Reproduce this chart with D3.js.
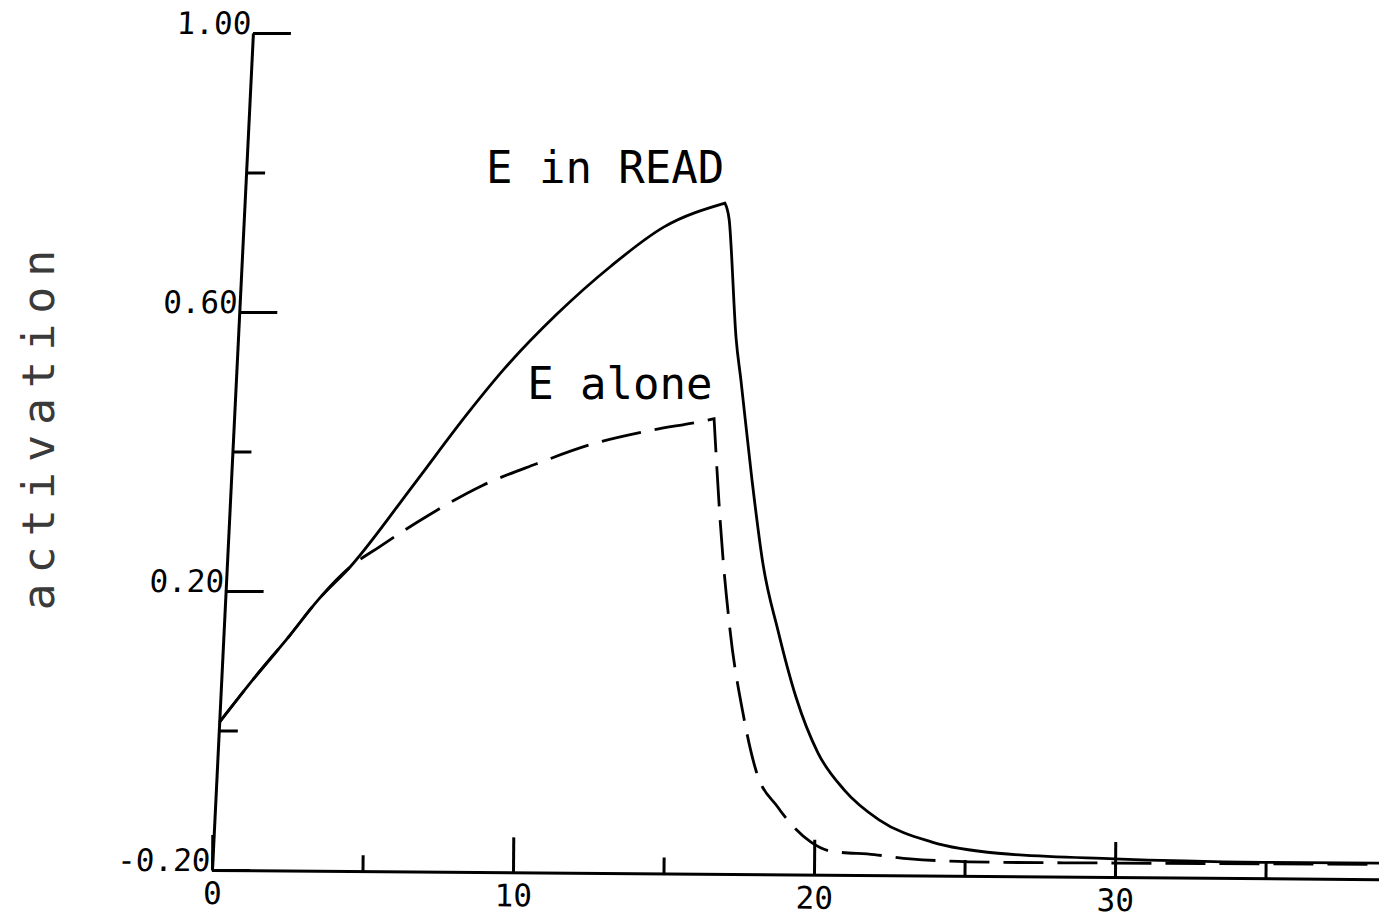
<!DOCTYPE html>
<html>
<head>
<meta charset="utf-8">
<script src="https://cdn.jsdelivr.net/npm/d3@7"></script>
<style>
  body { margin: 0; background: #fff; }
  svg { display: block; }
  text { font-family: "DejaVu Sans Mono", "Liberation Mono", monospace; fill: #000; }
</style>
</head>
<body>
<div id="chart"></div>
<script>
// values
const readTime  = [0.25, 1.4, 2.56, 3.52, 4.58, 6.71, 8.5, 9.7, 11.46, 13.26, 15.02, 17.04, 17.18, 17.41, 17.57, 17.94, 18.3, 18.8, 19.4, 20.13, 21.0, 22.16, 23.92, 26.11, 29.97, 34.92, 38.77];
const readAct   = [0.012, 0.075, 0.135, 0.187, 0.234, 0.353, 0.455, 0.518, 0.597, 0.666, 0.722, 0.756, 0.733, 0.563, 0.503, 0.359, 0.24, 0.144, 0.048, -0.032, -0.085, -0.128, -0.16, -0.176, -0.184, -0.189, -0.19];
const aloneTime = [0.25, 1.4, 2.56, 3.52, 4.58, 5.55, 7.21, 8.97, 10.76, 12.66, 14.42, 16.35, 16.68, 16.88, 17.21, 17.64, 18.07, 18.8, 19.9, 20.56, 22.0, 23.19, 26.11, 30, 38.77];
const aloneAct  = [0.012, 0.075, 0.135, 0.187, 0.234, 0.263, 0.309, 0.351, 0.382, 0.411, 0.429, 0.444, 0.447, 0.302, 0.144, 0.025, -0.057, -0.11, -0.16, -0.173, -0.178, -0.184, -0.189, -0.19, -0.192];

const xMajorTicks = [0, 10, 20, 30];
const xMinorTicks = [5, 15, 25, 35];
const yMajorTicks = [-0.2, 0.2, 0.6, 1.0];
const yTickLabels = ["-0.20", "0.20", "0.60", "1.00"];
const yMinorTicks = [0.0, 0.4, 0.8];

const seriesNames = ["E in READ", "E alone"];
const labelTime = [9.1, 10.47];
const labelAct = [0.785, 0.475];

const W = 1379, H = 919;

const x = d3.scaleLinear().domain([0, 38.77]).range([212, 1379]);
const y = d3.scaleLinear().domain([-0.2, 1.0]).range([870, 33]);

const svg = d3.select('#chart').append('svg')
    .attr('width', W)
    .attr('height', H);

// x axis (the scan is tilted a little)
const xg = svg.append('g')
    .attr('transform', `rotate(0.45, ${x(0)}, ${y(-0.2)}) translate(0, ${y(-0.2)})`);

xg.append('g')
    .call(d3.axisBottom(x).tickValues(xMajorTicks).tickSizeInner(-35).tickSizeOuter(0)
        .tickPadding(12).tickFormat(d3.format('d')));
xg.append('g')
    .call(d3.axisBottom(x).tickValues(xMinorTicks).tickSize(-16).tickFormat(''))
    .call(g => g.select('.domain').remove());

// y axis, drawn slanted like the original
const yg = svg.append('g')
    .attr('transform', `translate(${x(0)}, ${y(-0.2)}) skewX(-2.8) translate(0, ${-y(-0.2)})`);

yg.append('g')
    .call(d3.axisLeft(y).tickValues(yMajorTicks).tickSizeInner(-38).tickSizeOuter(0)
        .tickPadding(2).tickFormat((d, i) => yTickLabels[i]));
yg.append('g')
    .call(d3.axisLeft(y).tickValues(yMinorTicks).tickSize(-19).tickFormat(''))
    .call(g => g.select('.domain').remove());

svg.selectAll('.domain, .tick line')
    .attr('stroke', '#000')
    .attr('stroke-width', 3);

svg.selectAll('.tick text')
    .attr('font-family', '"DejaVu Sans Mono", monospace')
    .attr('font-size', 31)
    .attr('fill', '#000');

yg.selectAll('.tick text').attr('dy', '0em');

// y title
svg.append('text')
    .attr('transform', 'translate(54, 425) rotate(-90)')
    .attr('text-anchor', 'middle')
    .attr('font-size', 45)
    .attr('letter-spacing', 10)
    .style('fill', '#3a3a3a')
    .text('activation');

// curves: smooth on each side of the peak, keep the peak corner sharp
const line = d3.line()
    .x(d => x(d[0]))
    .y(d => y(d[1]))
    .curve(d3.curveMonotoneX);

function drawSeries(times, acts, dash) {
    const data = times.map((t, i) => [t, acts[i]]);
    const peak = d3.maxIndex(acts);
    const parts = [data.slice(0, peak + 1), data.slice(peak)];
    svg.append('path')
        .attr('d', line(parts[0]) + line(parts[1]).replace(/^M[^A-Za-z]*/, ''))
        .attr('fill', 'none')
        .attr('stroke', '#000')
        .attr('stroke-width', 2.8)
        .attr('stroke-linejoin', 'miter')
        .attr('stroke-dasharray', dash);
}

drawSeries(aloneTime, aloneAct, '40,14');
drawSeries(readTime, readAct, null);

// curve labels
svg.selectAll('.series-label')
    .data(seriesNames)
    .enter().append('text')
    .attr('class', 'series-label')
    .attr('x', (d, i) => x(labelTime[i]))
    .attr('y', (d, i) => y(labelAct[i]))
    .attr('font-size', 44)
    .text(d => d);
</script>
</body>
</html>
